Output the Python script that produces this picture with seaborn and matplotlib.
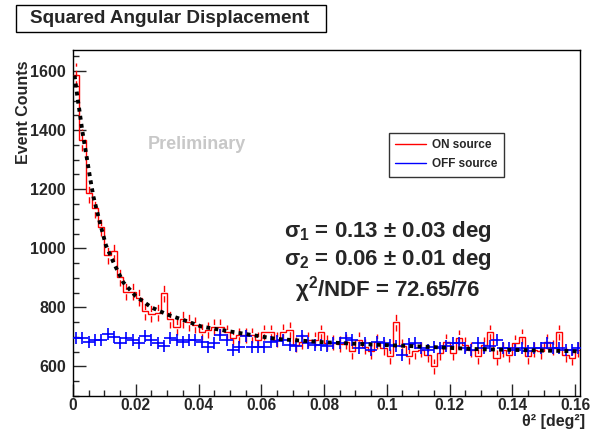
import numpy as np
import matplotlib
matplotlib.use('Agg')
import matplotlib.pyplot as plt
from matplotlib.lines import Line2D
from matplotlib.patches import Rectangle
from matplotlib.ticker import MultipleLocator, FuncFormatter
import seaborn as sns

# theta^2 histogram, bin width 0.002 deg^2
bin_width = 0.002
on_counts = [1586, 1367, 1188, 1137, 1073, 978, 990, 904, 853, 853,
             833, 787, 779, 782, 847, 759, 735, 759, 749, 740,
             718, 723, 735, 735, 715, 698, 705, 705, 705, 691,
             715, 715, 691, 718, 725, 674, 684, 691, 691, 715,
             681, 681, 676, 684, 651, 691, 667, 651, 684, 664,
             634, 749, 668, 634, 651, 657, 640, 600, 647, 684,
             647, 698, 674, 657, 634, 674, 715, 630, 657, 640,
             681, 701, 634, 657, 651, 684, 664, 715, 640, 630, 657]
off_counts = [698, 698, 682, 691, 691, 711, 701, 681, 698, 688,
              681, 704, 691, 681, 668, 698, 691, 682, 691, 691,
              682, 665, 680, 706, 688, 657, 667, 703, 667, 667,
              665, 682, 686, 691, 674, 668, 702, 681, 674, 674,
              668, 681, 681, 695, 689, 664, 681, 657, 684, 681,
              672, 670, 640, 676, 681, 661, 657, 665, 661, 668,
              681, 681, 664, 657, 681, 661, 668, 691, 664, 661,
              657, 661, 651, 661, 664, 681, 661, 664, 657, 657, 664]

# fit curve
fit_x = [0.0005, 0.001, 0.0015, 0.002, 0.003, 0.0045, 0.0055, 0.0065, 0.0085, 0.0105,
         0.013, 0.016, 0.020, 0.025, 0.030, 0.035, 0.041, 0.052, 0.065, 0.08,
         0.096, 0.11, 0.128, 0.145, 0.162]
fit_y = [1585, 1545, 1505, 1470, 1395, 1300, 1235, 1175, 1090, 1010,
         950, 885, 838, 800, 776, 758, 735, 715, 693, 682,
         674, 668, 659, 655, 651]

sns.set_style('ticks')
plt.rcParams['font.family'] = ['Liberation Sans', 'DejaVu Sans']
plt.rcParams['font.weight'] = 'bold'
plt.rcParams['mathtext.fontset'] = 'custom'
plt.rcParams['mathtext.bf'] = 'Liberation Sans:bold'
plt.rcParams['mathtext.rm'] = 'Liberation Sans:bold'
plt.rcParams['mathtext.default'] = 'bf'

on = np.array(on_counts, dtype=float)
off = np.array(off_counts, dtype=float)
edges = np.arange(len(on) + 1) * bin_width
centers = edges[:-1] + bin_width / 2

fig = plt.figure(figsize=(5.91, 4.30), dpi=100)
ax = fig.add_axes([0.1235, 0.0790, 0.858, 0.8047])

# ON source histogram with error bars
ax.stairs(on, edges, baseline=None, color='red', lw=1.0, zorder=3)
eb = ax.errorbar(centers, on, yerr=np.sqrt(on), fmt='none', ecolor='red', elinewidth=1.0, zorder=3)
eb[2][0].set_linestyle((0, (4.5, 3)))

# OFF source
sns.scatterplot(x=centers, y=off, marker='+', s=70, color='blue', linewidth=1.2, ax=ax, zorder=4)

# fit
sns.lineplot(x=fit_x, y=fit_y, color='black', lw=2.8, linestyle=(0, (1, 1.1)), ax=ax, zorder=5)

ax.set_xlim(0, 0.1616)
ax.set_ylim(500, 1671)

ax.xaxis.set_major_locator(MultipleLocator(0.02))
ax.xaxis.set_minor_locator(MultipleLocator(0.005))
ax.yaxis.set_major_locator(MultipleLocator(200))
ax.yaxis.set_minor_locator(MultipleLocator(50))
ax.xaxis.set_major_formatter(FuncFormatter(lambda v, p: '0' if abs(v) < 1e-9 else ('%.2f' % v).rstrip('0')))
ax.tick_params(which='major', direction='in', length=9, width=1, labelsize=11.5, pad=5)
ax.tick_params(axis='x', which='major', pad=1.5, labelsize=11.2)
ax.tick_params(which='minor', direction='in', length=4.5, width=1)
ax.tick_params(top=False, right=False, which='both')
for lab in ax.get_xticklabels() + ax.get_yticklabels():
    lab.set_fontweight('bold')
for sp in ax.spines.values():
    sp.set_visible(True)
    sp.set_linewidth(1.0)
    sp.set_color('black')

ax.set_ylabel('Event Counts', fontsize=11.5, fontweight='bold')
ax.yaxis.set_label_coords(-0.083, 0.97)
ax.yaxis.label.set_ha('right')
fig.text(585 / 591, 1 / 430, 'θ² [deg²]', fontsize=11.5, fontweight='bold', ha='right', va='bottom')

ax.text(0.0395, 1350, 'Preliminary', color='#c8c8c8', fontsize=13, fontweight='bold',
        ha='center', va='center')

ax.text(0.1003, 1056, r'$\sigma_1$ = 0.13 $\pm$ 0.03 deg', fontsize=16, ha='center', va='center')
ax.text(0.1003, 962, r'$\sigma_2$ = 0.06 $\pm$ 0.01 deg', fontsize=16, ha='center', va='center')
ax.text(0.1003, 860, r'$\chi^2$/NDF = 72.65/76', fontsize=16, ha='center', va='center')

handles = [Line2D([], [], color='red', lw=1), Line2D([], [], color='blue', lw=1)]
leg = ax.legend(handles, ['ON source', 'OFF source'], loc='upper left', bbox_to_anchor=(0.623, 0.761),
                fontsize=8.5, frameon=True, fancybox=False, handlelength=2.6, handletextpad=0.5,
                borderpad=0.55, labelspacing=0.6, borderaxespad=0)
leg.get_frame().set_edgecolor('black')
leg.get_frame().set_linewidth(1.0)
for t in leg.get_texts():
    t.set_fontweight('bold')

fig.patches.append(Rectangle((16 / 591, 1 - 32 / 430), 310 / 591, 27 / 430, transform=fig.transFigure,
                             facecolor='white', edgecolor='black', lw=1.0))
fig.text(30 / 591, 1 - 18.5 / 430, 'Squared Angular Displacement', fontsize=13.6, fontweight='bold',
         ha='left', va='center')

fig.savefig('out.png', dpi=100, facecolor='white')
